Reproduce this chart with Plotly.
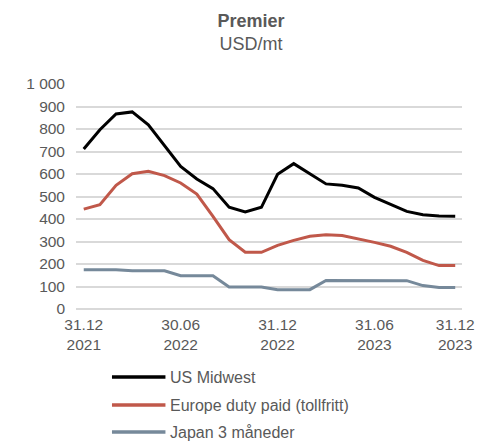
import plotly.graph_objects as go

# --- data ---
idx = list(range(24))
us_midwest = [711, 797, 867, 876, 819, 726, 634, 578, 535, 452, 431, 452,
              599, 646, 600, 556, 550, 538, 496, 464, 434, 419, 413, 412]
europe = [444, 464, 550, 601, 612, 593, 560, 511, 412, 308, 252, 252,
          283, 305, 323, 330, 327, 313, 296, 279, 252, 216, 193, 193]
japan = [175, 175, 175, 170, 170, 170, 148, 148, 148, 98, 98, 98,
         86, 86, 86, 127, 127, 126, 126, 126, 126, 104, 96, 96]
tick_pos = [0, 6, 12, 18, 23]
tick_text = ["31.12<br>2021", "30.06<br>2022", "31.12<br>2022", "31.06<br>2023", "31.12<br>2023"]
series_names = ["US Midwest", "Europe duty paid (tollfritt)", "Japan 3 måneder"]
colors = ["#000000", "#C0584A", "#76899A"]

# page has an 8px body margin, so the figure is 8px smaller than the window
W, H = 478, 433
L, R, T, B = 68, 13, 76, 132
FONT = "Liberation Sans, Arial, sans-serif"
TXT = "#595959"

fig = go.Figure()
for name, ys, c in zip(series_names, [us_midwest, europe, japan], colors):
    fig.add_trace(go.Scatter(x=idx, y=ys, mode="lines", name=name,
                             line=dict(color=c, width=3), showlegend=False))

# manual legend (swatch + label), positioned in pixels converted to paper coords
pw, ph = W - L - R, H - T - B
def px(x):
    return (x - L) / pw
def py(y):
    return (H - B - y) / ph

leg_y = [369, 397, 424]
for name, c, yy in zip(series_names, colors, leg_y):
    fig.add_shape(type="line", xref="paper", yref="paper",
                  x0=px(105), x1=px(160), y0=py(yy), y1=py(yy),
                  line=dict(color=c, width=3.5))
    fig.add_annotation(xref="paper", yref="paper", x=px(163), y=py(yy),
                       text=name, showarrow=False, xanchor="left", yanchor="middle",
                       font=dict(family=FONT, size=16, color=TXT))

fig.update_layout(
    width=W, height=H,
    margin=dict(l=L, r=R, t=T, b=B),
    paper_bgcolor="white", plot_bgcolor="white",
    separators=". ",
    title=dict(text="<b>Premier</b><br>USD/mt", x=243 / W, xanchor="center",
               xref="container", yref="container",
               y=1 - 19 / H, yanchor="top",
               font=dict(family=FONT, size=18, color=TXT)),
    font=dict(family=FONT, size=15.5, color=TXT),
)
fig.update_xaxes(range=[-0.48, 23.42], tickvals=tick_pos, ticktext=tick_text,
                 showgrid=False, zeroline=False, showline=False, ticks="",
                 ticklabelstandoff=4,
                 tickfont=dict(family=FONT, size=15.5, color=TXT))
fig.update_yaxes(range=[0, 1000], dtick=100, tick0=0, separatethousands=True,
                 showgrid=True, gridcolor="#D9D9D9", gridwidth=1.5,
                 zeroline=True, zerolinecolor="#D9D9D9", zerolinewidth=1.5,
                 showline=False, ticks="", ticklabelstandoff=10,
                 tickfont=dict(family=FONT, size=15.5, color=TXT))

fig.write_html("out.html")
